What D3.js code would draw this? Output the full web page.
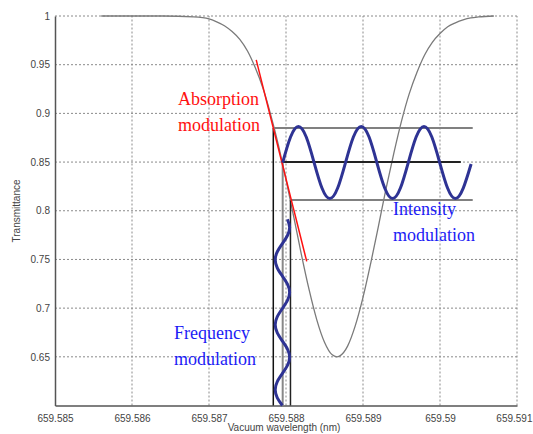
<!DOCTYPE html>
<html><head><meta charset="utf-8">
<script src="https://cdn.jsdelivr.net/npm/d3@7/dist/d3.min.js"></script>
<style>body{margin:0;background:#fff} svg{display:block}</style>
</head><body><svg id="c" width="533" height="434"></svg>
<script>
// ---- data ----
const xTicks = [659.585, 659.586, 659.587, 659.588, 659.589, 659.590, 659.591];
const xTickLabels = ["659.585", "659.586", "659.587", "659.588", "659.589", "659.59", "659.591"];
const yTicks = [0.65, 0.70, 0.75, 0.80, 0.85, 0.90, 0.95, 1.00];
const yTickLabels = ["0.65", "0.7", "0.75", "0.8", "0.85", "0.9", "0.95", "1"];

// transmittance line (vacuum wavelength nm, transmittance)
const curveWavelength = [659.5856, 659.5860, 659.5864, 659.5868, 659.5870, 659.5871, 659.5872, 659.5873, 659.5874,
  659.5875, 659.5876, 659.5877, 659.5878, 659.5879, 659.5880, 659.5881, 659.5882, 659.5883, 659.5884, 659.5885,
  659.5886, 659.58866, 659.5887, 659.5888, 659.5889, 659.5890, 659.5891, 659.5892, 659.5893, 659.5894, 659.5895,
  659.5896, 659.5897, 659.5898, 659.5899, 659.5900, 659.5901, 659.5902, 659.5903, 659.5904, 659.5905, 659.5907];
const curveTransmittance = [1.000, 1.000, 1.000, 0.999, 0.997, 0.994, 0.990, 0.984, 0.976,
  0.964, 0.947, 0.926, 0.899, 0.868, 0.832, 0.794, 0.755, 0.719, 0.688, 0.665,
  0.652, 0.650, 0.651, 0.661, 0.682, 0.711, 0.746, 0.784, 0.823, 0.859, 0.892,
  0.920, 0.942, 0.960, 0.973, 0.982, 0.989, 0.993, 0.996, 0.998, 0.999, 1.000];

// tangent (absorption modulation)
const tangentWavelength = [659.587613, 659.588269];
const tangentTransmittance = [0.955, 0.748];

// operating points on the curve
const opWavelength = [659.587835, 659.587957, 659.588058];
const opTransmittance = [0.885, 0.850, 0.811];
const opLineEnd = [659.590425, 659.590270, 659.590425];

// intensity modulation wave
const intensityX = [659.587957, 659.588059, 659.588161, 659.588263, 659.588365, 659.588467, 659.588569, 659.588671,
  659.588773, 659.588875, 659.588977, 659.589079, 659.589180, 659.589282, 659.589384, 659.589486,
  659.589588, 659.589690, 659.589792, 659.589894, 659.589996, 659.590098, 659.590200, 659.590302, 659.590404];
const intensityY = [0.8495, 0.8757, 0.8865, 0.8757, 0.8495, 0.8233, 0.8125, 0.8233,
  0.8495, 0.8757, 0.8865, 0.8757, 0.8495, 0.8233, 0.8125, 0.8233,
  0.8495, 0.8757, 0.8865, 0.8757, 0.8495, 0.8233, 0.8125, 0.8233, 0.8480];

// frequency modulation wave
const frequencyX = [659.588019, 659.588047, 659.588019, 659.587953, 659.587887, 659.587860, 659.587887,
  659.587953, 659.588019, 659.588047, 659.588019, 659.587953, 659.587887, 659.587860, 659.587887,
  659.587953, 659.588019, 659.588047, 659.588019, 659.587953, 659.587887, 659.587860, 659.587887, 659.587953];
const frequencyY = [0.7912, 0.7829, 0.7746, 0.7662, 0.7579, 0.7496, 0.7412,
  0.7329, 0.7246, 0.7162, 0.7079, 0.6996, 0.6912, 0.6829, 0.6746,
  0.6662, 0.6579, 0.6496, 0.6412, 0.6329, 0.6246, 0.6162, 0.6079, 0.6000];

// ---- drawing ----
const svg = d3.select("#c");
const x = d3.scaleLinear().domain([659.585, 659.591]).range([55, 517]);
const y = d3.scaleLinear().domain([0.6, 1.0]).range([405.5, 16]);

const grid = svg.append("g");
grid.selectAll("line.v").data(xTicks.slice(1)).enter().append("line")
  .attr("x1", d => x(d)).attr("x2", d => x(d)).attr("y1", y(0.6)).attr("y2", y(1))
  .attr("stroke", "#8a8a8a").attr("stroke-width", 1).attr("stroke-dasharray", "2,2");
grid.selectAll("line.h").data(yTicks).enter().append("line")
  .attr("x1", x(659.585)).attr("x2", x(659.591)).attr("y1", d => y(d)).attr("y2", d => y(d))
  .attr("stroke", "#8a8a8a").attr("stroke-width", 1).attr("stroke-dasharray", "2,2");

// axes
const xAxis = d3.axisBottom(x).tickValues(xTicks).tickFormat((d, i) => xTickLabels[i]).tickSize(0).tickPadding(5);
const yAxis = d3.axisLeft(y).tickValues(yTicks).tickFormat((d, i) => yTickLabels[i]).tickSize(0).tickPadding(5);
const gx = svg.append("g").attr("transform", `translate(0,${y(0.6)})`).call(xAxis);
const gy = svg.append("g").attr("transform", `translate(${x(659.585)},0)`).call(yAxis);
[gx, gy].forEach(g => {
  g.select(".domain").attr("stroke", "#555").attr("stroke-width", 1.5);
  g.selectAll("text").attr("font-family", "Liberation Sans, Arial, sans-serif").attr("font-size", 10).attr("fill", "#444");
});
gx.selectAll("text").attr("dy", "1.1em");
// keep the last x label inside the picture
gx.selectAll("text").filter((d, i) => i === xTicks.length - 1).attr("text-anchor", "end").attr("dx", 15);

svg.append("text").attr("x", 284).attr("y", 431).attr("text-anchor", "middle")
  .attr("font-family", "Liberation Sans, Arial, sans-serif").attr("font-size", 10).attr("fill", "#444")
  .text("Vacuum wavelength (nm)");
svg.append("text").attr("transform", "translate(20,211) rotate(-90)").attr("text-anchor", "middle")
  .attr("font-family", "Liberation Sans, Arial, sans-serif").attr("font-size", 10).attr("fill", "#444")
  .text("Transmittance");

// transmittance curve
const curvePts = curveWavelength.map((w, i) => [w, curveTransmittance[i]]);
svg.append("path").datum(curvePts)
  .attr("d", d3.line().x(d => x(d[0])).y(d => y(d[1])).curve(d3.curveMonotoneX))
  .attr("fill", "none").attr("stroke", "#7a7a7a").attr("stroke-width", 1.3);

// vertical lines from operating points
const vColors = ["#111", "#888", "#222"];
const vWidths = [1.5, 2, 1.5];
opWavelength.forEach((w, i) => {
  svg.append("line").attr("x1", x(w)).attr("x2", x(w)).attr("y1", y(0.6)).attr("y2", y(opTransmittance[i]))
    .attr("stroke", vColors[i]).attr("stroke-width", vWidths[i]);
});
// horizontal lines from operating points
const hColors = ["#808080", "#222", "#808080"];
opWavelength.forEach((w, i) => {
  svg.append("line").attr("x1", x(w)).attr("x2", x(opLineEnd[i])).attr("y1", y(opTransmittance[i])).attr("y2", y(opTransmittance[i]))
    .attr("stroke", hColors[i]).attr("stroke-width", 2);
});

// tangent line
svg.append("line").attr("x1", x(tangentWavelength[0])).attr("y1", y(tangentTransmittance[0]))
  .attr("x2", x(tangentWavelength[1])).attr("y2", y(tangentTransmittance[1]))
  .attr("stroke", "#ff1010").attr("stroke-width", 1.5);

// waves
const waveColor = "#2e3394";
svg.append("path").datum(intensityX.map((v, i) => [v, intensityY[i]]))
  .attr("d", d3.line().x(d => x(d[0])).y(d => y(d[1])).curve(d3.curveNatural))
  .attr("fill", "none").attr("stroke", waveColor).attr("stroke-width", 3);
svg.append("path").datum(frequencyX.map((v, i) => [v, frequencyY[i]]))
  .attr("d", d3.line().x(d => x(d[0])).y(d => y(d[1])).curve(d3.curveNatural))
  .attr("fill", "none").attr("stroke", waveColor).attr("stroke-width", 3);

// annotations
function label(lines, x0, y0, color) {
  const t = svg.append("text").attr("font-family", "Liberation Serif, Times New Roman, serif")
    .attr("font-size", 18).attr("fill", color);
  lines.forEach((s, i) => t.append("tspan").attr("x", x0).attr("y", y0 + i * 26).text(s));
}
label(["Absorption", "modulation"], 178, 105, "#ff1010");
label(["Intensity", "modulation"], 393, 215, "#1c1cf5");
label(["Frequency", "modulation"], 174, 339, "#1c1cf5");
</script></body></html>
